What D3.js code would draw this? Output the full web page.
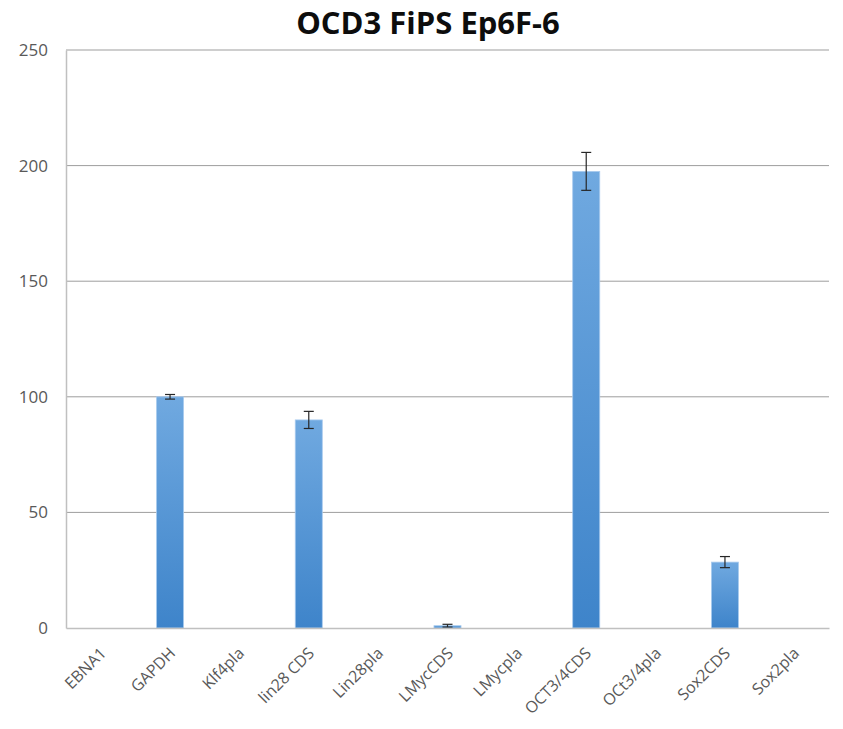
<!DOCTYPE html>
<html><head><meta charset="utf-8">
<script src="https://cdn.jsdelivr.net/npm/d3@7/dist/d3.min.js"></script>
<style>
body{margin:0;background:#fff}
#wrap{position:relative;width:843px;height:729px}
.xl{position:absolute;width:150px;height:20px;line-height:20px;text-align:right;white-space:nowrap;
  font-family:'Open Sans',sans-serif;font-size:16px;color:#595959;transform-origin:100% 50%;transform:rotate(-45deg)}
</style>
</head><body>
<div id="wrap"></div>
<script>
const categories = ["EBNA1","GAPDH","Klf4pla","lin28 CDS","Lin28pla","LMycCDS","LMycpla","OCT3/4CDS","OCt3/4pla","Sox2CDS","Sox2pla"];
const values = [0, 100, 0, 90, 0, 1, 0, 197.5, 0, 28.5, 0];
const errors = [0, 1, 0, 3.7, 0, 0.6, 0, 8.2, 0, 2.4, 0];
const yTicks = [0, 50, 100, 150, 200, 250];
const title = "OCD3 FiPS Ep6F-6";

const W = 843, H = 729;
const m = {left: 66, right: 14, top: 50, bottom: 101};
const wrap = d3.select("#wrap");
const svg = wrap.append("svg").attr("width", W).attr("height", H).style("position","absolute").style("left","0").style("top","0");

const defs = svg.append("defs");
const grad = defs.append("linearGradient").attr("id","barGrad").attr("x1",0).attr("y1",0).attr("x2",0).attr("y2",1);
grad.append("stop").attr("offset","0%").attr("stop-color","#70a9e0");
grad.append("stop").attr("offset","100%").attr("stop-color","#3e84ca");

const x = d3.scaleBand().domain(categories).range([m.left, W - m.right]).paddingInner(0.61).paddingOuter(0.305);
const y = d3.scaleLinear().domain([0, 250]).range([H - m.bottom, m.top]);

// gridlines
svg.append("g").selectAll("line").data(yTicks.filter(d => d > 0)).join("line")
  .attr("x1", m.left).attr("x2", W - m.right)
  .attr("y1", d => y(d)).attr("y2", d => y(d))
  .attr("stroke", "#9d9d9d").attr("stroke-width", 1);

// y axis
const yAxis = d3.axisLeft(y).tickValues(yTicks).tickSize(0).tickPadding(18);
const ya = svg.append("g").attr("transform", `translate(${m.left},0)`).call(yAxis);
ya.select(".domain").attr("stroke", "#c0c0c0").attr("stroke-width", 1.5);
ya.selectAll("text").attr("font-family", "'Open Sans', sans-serif").attr("font-size", 17).attr("fill", "#595959");

// bars
svg.append("g").selectAll("rect").data(categories).join("rect")
  .attr("x", d => x(d)).attr("width", x.bandwidth())
  .attr("y", (d, i) => y(values[i])).attr("height", (d, i) => y(0) - y(values[i]))
  .attr("fill", "url(#barGrad)")
  .attr("stroke", "#a9cbee").attr("stroke-width", 0.8);

// error bars
const eg = svg.append("g").attr("stroke", "#262626").attr("stroke-width", 1.2);
categories.forEach((c, i) => {
  if (!errors[i]) return;
  const cx = x(c) + x.bandwidth() / 2;
  const y1 = y(values[i] + errors[i]), y2 = y(values[i] - errors[i]);
  eg.append("line").attr("x1", cx).attr("x2", cx).attr("y1", y1).attr("y2", y2);
  eg.append("line").attr("x1", cx - 5).attr("x2", cx + 5).attr("y1", y1).attr("y2", y1);
  eg.append("line").attr("x1", cx - 5).attr("x2", cx + 5).attr("y1", y2).attr("y2", y2);
});

// x axis
const xa = svg.append("g").attr("transform", `translate(0,${H - m.bottom})`).call(d3.axisBottom(x).tickSize(0).tickFormat(""));
xa.select(".domain").attr("stroke", "#c0c0c0").attr("stroke-width", 1.5);

// rotated category labels (HTML, right end at each tick)
wrap.selectAll("div.xl").data(categories).join("div").attr("class", "xl")
  .style("left", d => (x(d) + x.bandwidth() / 2 + 2 - 150) + "px")
  .style("top", (H - m.bottom + 22 - 10) + "px")
  .text(d => d);

// title
svg.append("text").attr("x", 428).attr("y", 34).attr("text-anchor", "middle")
  .attr("font-family", "'Open Sans', sans-serif").attr("font-weight", "bold").attr("font-size", 31)
  .attr("fill", "#0d0d0d").text(title);
</script>
</body></html>
